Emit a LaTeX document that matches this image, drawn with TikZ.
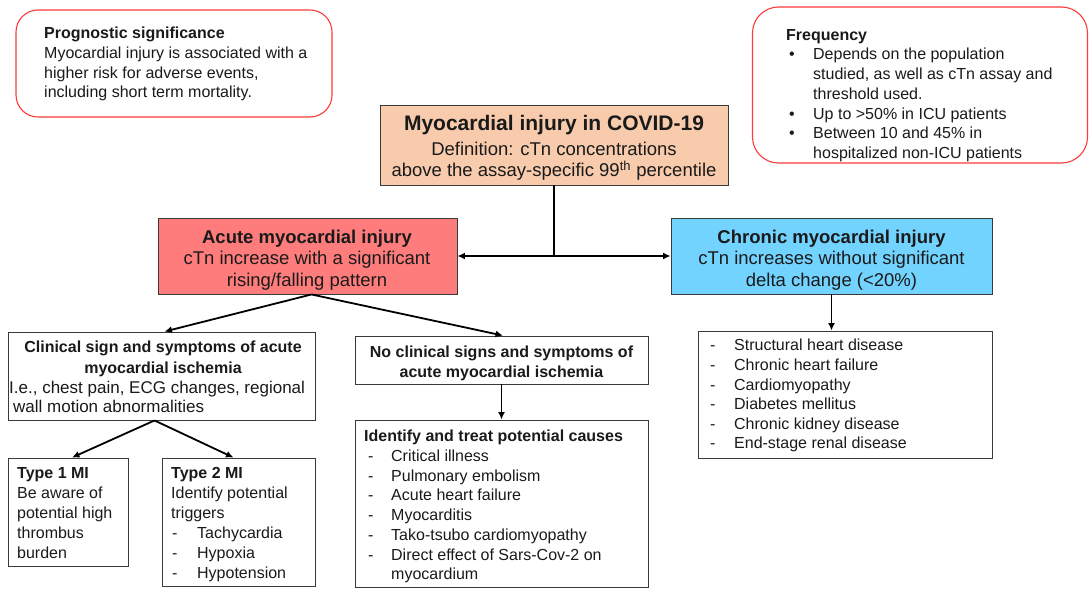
\documentclass[tikz,border=0pt]{standalone}
\usepackage{fontspec}
\setmainfont{Liberation Sans}
\usetikzlibrary{arrows.meta}
\definecolor{peach}{HTML}{F8CBAD}
\definecolor{acutered}{HTML}{FF7C7C}
\definecolor{chronblue}{HTML}{72D3FF}
\definecolor{roundred}{HTML}{FF3B3B}
\definecolor{boxgray}{HTML}{3A3A3A}
\definecolor{txtcol}{HTML}{1A1A1A}
\newcommand{\fbul}{\hspace*{3pt}\makebox[24pt][l]{•}}
\newcommand{\findent}{\hspace*{27pt}}
\newcommand{\dsh}{\hspace*{4pt}\makebox[23pt][l]{-}}
\newcommand{\dshb}{\hspace*{1pt}\makebox[25pt][l]{-}}
\newcommand{\dshc}{\makebox[24pt][l]{-}}
\begin{document}
\begin{tikzpicture}[x=1pt,y=-1pt,
  box/.style={draw=boxgray, line width=0.9pt, inner sep=0pt},
  roundbox/.style={draw=roundred, line width=1.1pt, rounded corners=22pt, inner sep=0pt},
  txt/.style={inner sep=0pt, text=txtcol, font=\fontsize{16}{19.7}\selectfont},
  bigtxt/.style={inner sep=0pt, text=txtcol, font=\fontsize{18.5}{21.6}\selectfont},
  conn/.style={line width=1.8pt, draw=black},
  arr/.style={conn, -{Latex[length=7.5pt,width=7pt]}},
]
\useasboundingbox[fill=white] (0,0) rectangle (1089,589);

% ---- boxes ----
\node[roundbox, minimum width=316pt, minimum height=107pt] (prog) at (174,63.5) {};
\node[roundbox, minimum width=335pt, minimum height=156pt, rounded corners=26pt] (freq) at (920,85) {};
\node[box, fill=peach, minimum width=348pt, minimum height=80pt] (main) at (554,145) {};
\node[box, fill=acutered, minimum width=299pt, minimum height=76pt] (acute) at (307.5,256) {};
\node[box, fill=chronblue, minimum width=321pt, minimum height=76pt] (chronic) at (831.5,256) {};
\node[box, minimum width=307pt, minimum height=88pt] (clin) at (161.5,376) {};
\node[box, minimum width=293pt, minimum height=48pt] (noclin) at (501.5,360) {};
\node[box, minimum width=293pt, minimum height=167pt] (ident) at (501.5,503.5) {};
\node[box, minimum width=120pt, minimum height=108pt] (type1) at (68,512) {};
\node[box, minimum width=153pt, minimum height=128pt] (type2) at (238.5,522) {};
\node[box, minimum width=294pt, minimum height=127pt] (chlist) at (845,394.5) {};

% ---- texts ----
\node[txt, anchor=north west, align=left] (progT) at (44,27)
  {\textbf{Prognostic significance}\\
   Myocardial injury is associated with a\\
   higher risk for adverse events,\\
   including short term mortality.};

\node[txt, anchor=north west, align=left] (freqT) at (786,29)
  {\textbf{Frequency}\\
   \fbul Depends on the population\\
   \findent studied, as well as cTn assay and\\
   \findent threshold used.\\
   \fbul Up to >50\% in ICU patients\\
   \fbul Between 10 and 45\% in\\
   \findent hospitalized non-ICU patients};

\node[inner sep=0pt, text=txtcol, font=\fontsize{21}{24}\selectfont\bfseries, anchor=north] (mainT) at (554,115.5)
  {Myocardial injury in COVID-19};
\node[bigtxt, anchor=north, align=center] (mainB) at (554,141.5)
  {Definition: cTn concentrations\\
   above the assay-specific 99\textsuperscript{th} percentile};

\node[bigtxt, anchor=north, align=center] (acuteT) at (307,229.5)
  {\textbf{Acute myocardial injury}\\
   cTn increase with a significant\\
   rising/falling pattern};

\node[bigtxt, anchor=north, align=center] (chronT) at (831.5,229.5)
  {\textbf{Chronic myocardial injury}\\
   cTn increases without significant\\
   delta change (<20\%)};

\node[txt, font=\fontsize{16}{21}\selectfont\bfseries, anchor=north, align=center] (clinT) at (163,341)
  {Clinical sign and symptoms of acute\\ myocardial ischemia};
\node[txt, font=\fontsize{17}{19.5}\selectfont, anchor=north west, align=left] (clinB) at (9,380.5)
  {I.e., chest pain, ECG changes, regional\\
   \hspace*{4pt}wall motion abnormalities};

\node[txt, font=\fontsize{16}{19.5}\selectfont\bfseries, anchor=north, align=center] (noclinT) at (501.5,346)
  {No clinical signs and symptoms of\\ acute myocardial ischemia};

\node[txt, anchor=north west, align=left] (identT) at (364,430)
  {\textbf{Identify and treat potential causes}\\
   \dsh Critical illness\\
   \dsh Pulmonary embolism\\
   \dsh Acute heart failure\\
   \dsh Myocarditis\\
   \dsh Tako-tsubo cardiomyopathy\\
   \dsh Direct effect of Sars-Cov-2 on\\
   \hspace*{27pt}myocardium};

\node[txt, font=\fontsize{16}{20}\selectfont, anchor=north west, align=left] (type1T) at (17,467)
  {\textbf{Type 1 MI}\\
   Be aware of\\
   potential high\\
   thrombus\\
   burden};

\node[txt, font=\fontsize{16}{20}\selectfont, anchor=north west, align=left] (type2T) at (171,467)
  {\textbf{Type 2 MI}\\
   Identify potential\\
   triggers\\
   \dshb Tachycardia\\
   \dshb Hypoxia\\
   \dshb Hypotension};

\node[txt, font=\fontsize{16}{19.6}\selectfont, anchor=north west, align=left] (chlistT) at (710,339)
  {\dshc Structural heart disease\\
   \dshc Chronic heart failure\\
   \dshc Cardiomyopathy\\
   \dshc Diabetes mellitus\\
   \dshc Chronic kidney disease\\
   \dshc End-stage renal disease};

% ---- connectors ----
\coordinate (jn) at (main.south |- acute.east);
\draw[conn] (main.south) -- (jn);
\draw[arr] (jn) -- (acute.east);
\draw[arr] (jn) -- (chronic.west);
\draw[arr] ([xshift=4pt]acute.south) -- ([xshift=3pt]clin.north);
\draw[arr] ([xshift=4pt]acute.south) -- ([xshift=1.5pt]noclin.north);
\draw[arr] ([xshift=-7pt]clin.south) -- ([xshift=4pt]type1.north);
\draw[arr] ([xshift=-7pt]clin.south) -- ([xshift=-5pt]type2.north);
\draw[arr] (noclin.south) -- (ident.north);
\draw[arr] (chronic.south) -- (chronic.south |- chlist.north);
\end{tikzpicture}
\end{document}
